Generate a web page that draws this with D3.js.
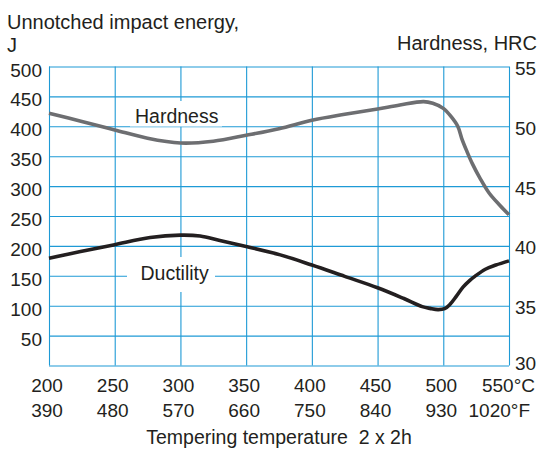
<!DOCTYPE html>
<html>
<head>
<meta charset="utf-8">
<script src="https://cdn.jsdelivr.net/npm/d3@7"></script>
<style>
  html, body { margin: 0; padding: 0; background: #fff; }
  svg { display: block; }
  text { font-family: "Liberation Sans", Arial, Helvetica, sans-serif; fill: #231f20; }
</style>
</head>
<body>
<script>
// ---- Data ----
const tempC = [200, 250, 300, 350, 400, 450, 500, 550];
const tempF = [390, 480, 570, 660, 750, 840, 930, 1020];
const energyTicks = [50, 100, 150, 200, 250, 300, 350, 400, 450, 500];
const hrcTicks = [30, 35, 40, 45, 50, 55];

const hardnessT   = [200, 225, 250, 275, 300, 325, 350, 375, 400, 425, 450, 467, 485, 492, 500, 506, 511, 514, 518, 522, 528, 535, 543, 550];
const hardnessHRC = [51.1, 50.4, 49.7, 49.0, 48.6, 48.75, 49.25, 49.8, 50.5, 51.0, 51.45, 51.78, 52.06, 51.92, 51.5, 50.8, 50.0, 49.0, 47.9, 46.9, 45.65, 44.4, 43.4, 42.6];

const ductilityT = [200, 224, 249, 277, 300, 315, 330, 350, 376, 400, 425, 450, 470, 484, 490, 496, 501, 505, 510, 515, 520, 524, 532, 540, 550];
const ductilityJ = [179.5, 190.5, 201.5, 214, 218, 216.5, 209, 199, 185, 168, 149, 130, 112, 98.5, 95.5, 93.5, 95, 102, 116, 131, 142, 149, 161, 168, 175];

// ---- Setup ----
const W = 539, H = 449;
const mLeft = 49, mRight = 509, mTop = 66.5, mBottom = 365.5;
const gridColor = "#1e9ad6";

const svg = d3.select("body").append("svg").attr("width", W).attr("height", H);

const x = d3.scaleLinear().domain([200, 550]).range([mLeft, mRight]);
const yL = d3.scaleLinear().domain([0, 500]).range([mBottom, mTop]);
const yR = d3.scaleLinear().domain([30, 55]).range([mBottom, mTop]);

// ---- Grid via axes ----
const gx = svg.append("g").attr("transform", `translate(0,${mBottom})`)
  .call(d3.axisBottom(x).tickValues(tempC).tickSize(-(mBottom - mTop)).tickFormat(""));
const gy = svg.append("g").attr("transform", `translate(${mLeft},0)`)
  .call(d3.axisLeft(yL).tickValues(d3.range(0, 501, 50)).tickSize(-(mRight - mLeft)).tickFormat(""));
[gx, gy].forEach(g => {
  g.select(".domain").remove();
  g.selectAll("line").attr("stroke", gridColor).attr("stroke-width", 1.1);
});

// ---- Label boxes (white background) ----
svg.append("rect").attr("x", 130).attr("y", 101).attr("width", 92).attr("height", 25.5).attr("fill", "#fff");
svg.append("rect").attr("x", 127).attr("y", 257).attr("width", 88).attr("height", 35).attr("fill", "#fff");

// ---- Curves ----
const hardness = hardnessT.map((t, i) => [t, hardnessHRC[i]]);
const ductility = ductilityT.map((t, i) => [t, ductilityJ[i]]);

svg.append("path").datum(hardness)
  .attr("fill", "none").attr("stroke", "#6d6e71").attr("stroke-width", 3.6)
  .attr("stroke-linejoin", "round")
  .attr("d", d3.line().x(d => x(d[0])).y(d => yR(d[1])).curve(d3.curveCatmullRom.alpha(0.5)));

svg.append("path").datum(ductility)
  .attr("fill", "none").attr("stroke", "#231f20").attr("stroke-width", 3.6)
  .attr("stroke-linejoin", "round")
  .attr("d", d3.line().x(d => x(d[0])).y(d => yL(d[1])).curve(d3.curveCatmullRom.alpha(0.5)));

// ---- Curve labels ----
svg.append("text").attr("x", 135).attr("y", 122.5).attr("font-size", 19.5).text("Hardness");
svg.append("text").attr("x", 140.5).attr("y", 280).attr("font-size", 19.5).text("Ductility");

// ---- Axis labels ----
svg.append("g").selectAll("text").data(energyTicks).join("text")
  .attr("x", 42).attr("y", d => yL(d) + 10).attr("text-anchor", "end")
  .attr("font-size", 19).text(d => d);

svg.append("g").selectAll("text").data(hrcTicks).join("text")
  .attr("x", 515).attr("y", d => yR(d) + (d === 30 ? 4.5 : 8.5)).attr("text-anchor", "start")
  .attr("font-size", 19).text(d => d);

const last = tempC.length - 1;
svg.append("g").selectAll("text").data(tempC).join("text")
  .attr("x", (d, i) => i === last ? x(d) + 26 : x(d) - 2)
  .attr("y", 392)
  .attr("text-anchor", (d, i) => i === last ? "end" : "middle")
  .attr("font-size", 19).text((d, i) => i === last ? d + "°C" : d);

svg.append("g").selectAll("text").data(tempF).join("text")
  .attr("x", (d, i) => i === last ? x(tempC[i]) + 21 : x(tempC[i]) - 2)
  .attr("y", 416.5)
  .attr("text-anchor", (d, i) => i === last ? "end" : "middle")
  .attr("font-size", 19).text((d, i) => i === last ? d + "°F" : d);

// ---- Titles ----
svg.append("text").attr("x", 7).attr("y", 29).attr("font-size", 20).text("Unnotched impact energy,");
svg.append("text").attr("x", 7).attr("y", 51.5).attr("font-size", 20).text("J");
svg.append("text").attr("x", 537).attr("y", 50).attr("text-anchor", "end").attr("font-size", 20).text("Hardness, HRC");
svg.append("text").attr("x", 279).attr("y", 444).attr("text-anchor", "middle").attr("font-size", 19.5)
  .style("white-space", "pre").text("Tempering temperature  2 x 2h");
</script>
</body>
</html>
